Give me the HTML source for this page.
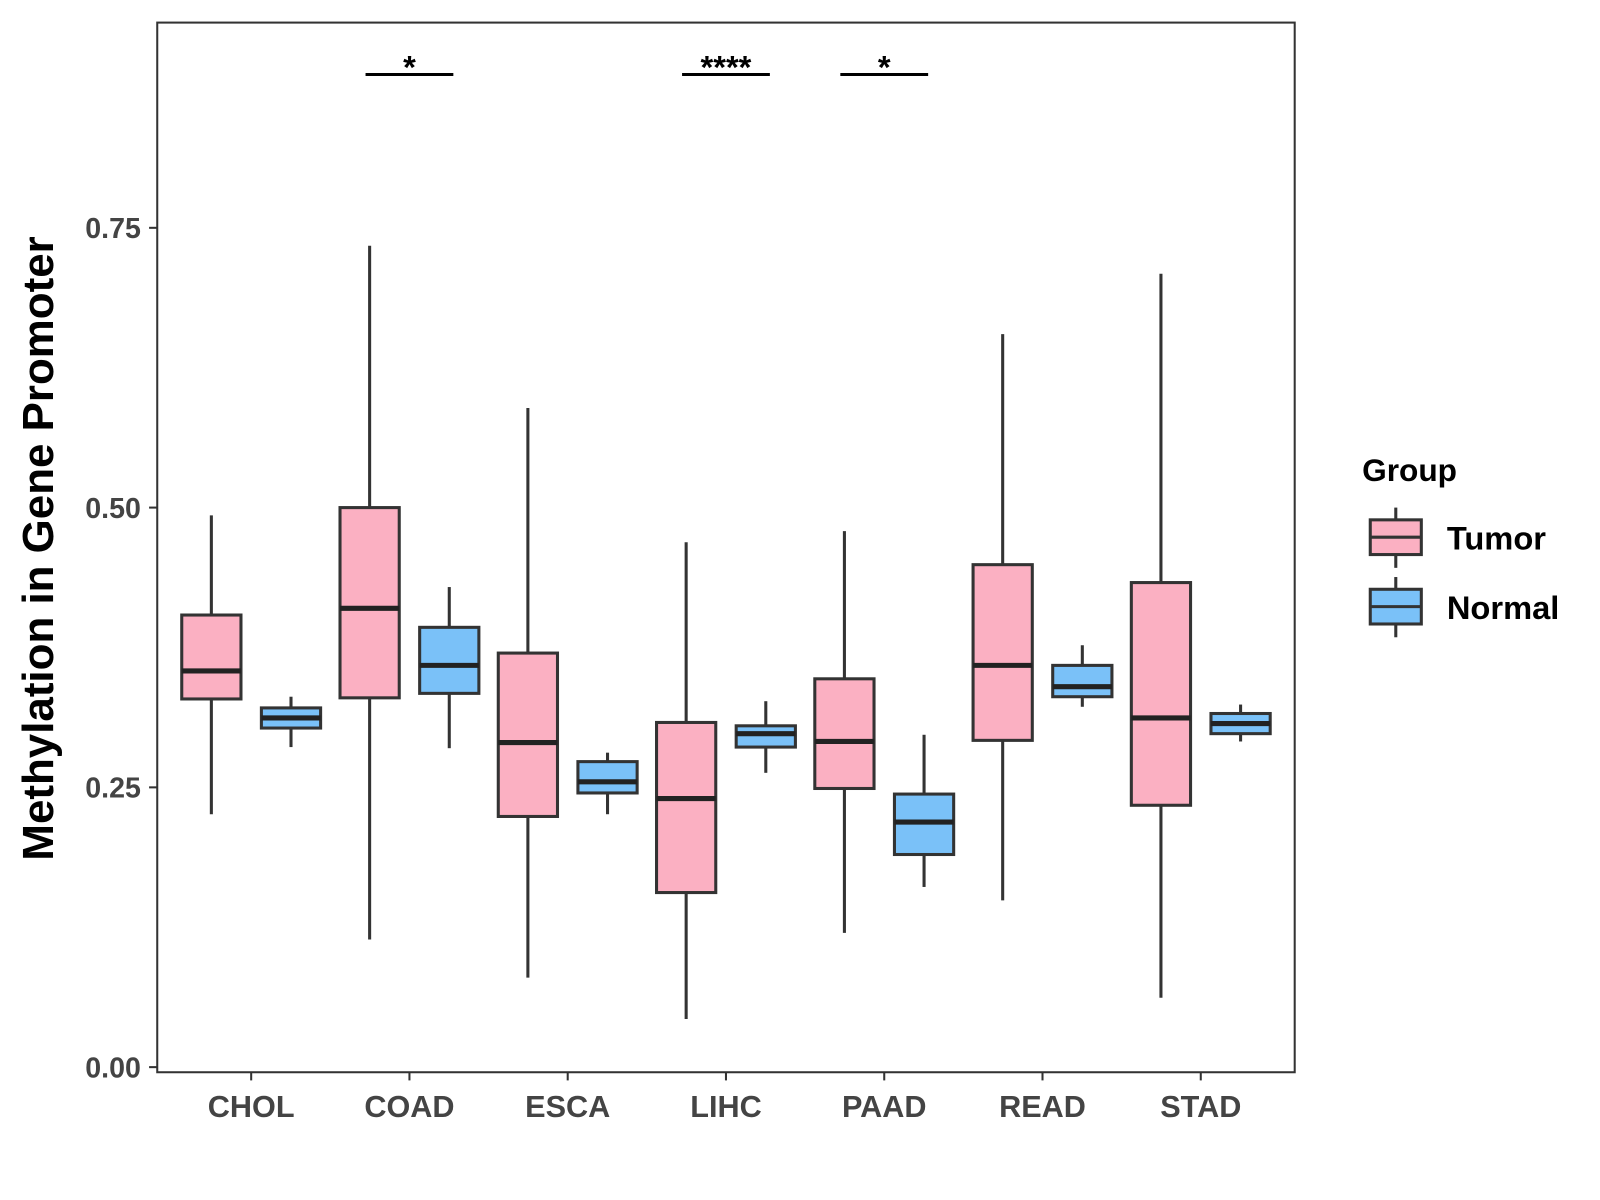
<!DOCTYPE html>
<html><head><meta charset="utf-8"><style>
html,body{margin:0;padding:0;background:#fff}
svg{display:block}
text{font-family:"Liberation Sans",Arial,sans-serif;font-weight:bold}
</style></head><body>
<svg id="chart" xmlns="http://www.w3.org/2000/svg" width="1600" height="1200" viewBox="0 0 1567 1175">
<rect x="0" y="0" width="1567" height="1175" fill="#fff"/>
<rect x="154" y="22" width="1114" height="1028" fill="none" stroke="#333" stroke-width="2"/>
<g id="yaxis"></g>
<g id="xaxis"></g>
<g id="boxes"></g>
<g id="sig"></g>
<text transform="translate(52,537) rotate(-90)" text-anchor="middle" font-size="43" fill="#000">Methylation in Gene Promoter</text>
<g>
<text x="1334" y="471" font-size="31" fill="#000">Group</text>
<g>
<line x1="1367" y1="497" x2="1367" y2="556" stroke="#333" stroke-width="3"/>
<rect x="1342" y="509" width="50" height="34" fill="#FBB0C2" stroke="#333" stroke-width="3"/>
<line x1="1342" y1="526" x2="1392" y2="526" stroke="#333" stroke-width="3"/>
<text x="1417" y="538" font-size="32" fill="#000">Tumor</text></g>
<g>
<line x1="1367" y1="565" x2="1367" y2="624" stroke="#333" stroke-width="3"/>
<rect x="1342" y="577" width="50" height="34" fill="#7AC1F8" stroke="#333" stroke-width="3"/>
<line x1="1342" y1="594" x2="1392" y2="594" stroke="#333" stroke-width="3"/>
<text x="1417" y="606" font-size="32" fill="#000">Normal</text></g>
</g>
</svg>
<script>
const categories=["CHOL","COAD","ESCA","LIHC","PAAD","READ","STAD"];
const groups=["Tumor","Normal"];
// [low, q1, median, q3, high]
const tumorStats=[[0.226,0.329,0.354,0.404,0.493],[0.114,0.330,0.410,0.500,0.734],[0.080,0.224,0.290,0.370,0.589],[0.043,0.156,0.240,0.308,0.469],[0.120,0.249,0.291,0.347,0.479],[0.149,0.292,0.359,0.449,0.655],[0.062,0.234,0.312,0.433,0.709]];
const normalStats=[[0.286,0.303,0.312,0.321,0.331],[0.285,0.334,0.359,0.393,0.429],[0.226,0.245,0.255,0.273,0.281],[0.263,0.286,0.298,0.305,0.327],[0.161,0.190,0.219,0.244,0.297],[0.322,0.331,0.340,0.359,0.377],[0.291,0.298,0.307,0.316,0.324]];
const yTicks=[0,0.25,0.5,0.75];
const yTickLabels=["0.00","0.25","0.50","0.75"];
const sigCategories=["COAD","LIHC","PAAD"];
const sigLabels=["*","****","*"];
const sigValue=0.887;

const NS="http://www.w3.org/2000/svg";
function y(v){return 1045-1096*v;}
function x(c){return 246+155*categories.indexOf(c);}
function mk(tag,attrs,parent){const e=document.createElementNS(NS,tag);for(const k in attrs)e.setAttribute(k,attrs[k]);parent.appendChild(e);return e;}
const ya=document.getElementById('yaxis'),xa=document.getElementById('xaxis'),bx=document.getElementById('boxes'),sg=document.getElementById('sig');
yTicks.forEach((t,i)=>{
  const l=mk('line',{x1:146,x2:154,y1:y(t),y2:y(t),stroke:'#333','stroke-width':2},ya);
  
  
  const tx=mk('text',{x:138,y:y(t)+10,'text-anchor':'end','font-size':28,fill:'#444'},ya);
  tx.textContent=yTickLabels[i];
  
  
});
categories.forEach(c=>{
  const l=mk('line',{x1:x(c),x2:x(c),y1:1050,y2:1058,stroke:'#333','stroke-width':2},xa);
  
  
  const tx=mk('text',{x:x(c),y:1094,'text-anchor':'middle','font-size':30,fill:'#444'},xa);
  tx.textContent=c;
  
  
});
function drawBox(s,cx,fill,name){
  const g=mk('g',{},bx);
  
  
  const hw=29;
  mk('line',{x1:cx,x2:cx,y1:y(s[4]),y2:y(s[3]),stroke:'#333','stroke-width':3},g);
  mk('line',{x1:cx,x2:cx,y1:y(s[1]),y2:y(s[0]),stroke:'#333','stroke-width':3},g);
  mk('rect',{x:cx-hw,y:y(s[3]),width:2*hw,height:y(s[1])-y(s[3]),fill:fill,stroke:'#333','stroke-width':3},g);
  mk('line',{x1:cx-hw,x2:cx+hw,y1:y(s[2]),y2:y(s[2]),stroke:'#222','stroke-width':5},g);
}
categories.forEach((c,i)=>{
  drawBox(tumorStats[i],x(c)-39,'#FBB0C2','box-'+c.toLowerCase()+'-tumor');
  drawBox(normalStats[i],x(c)+39,'#7AC1F8','box-'+c.toLowerCase()+'-normal');
});
sigCategories.forEach((c,i)=>{
  const l=mk('line',{x1:x(c)-43,x2:x(c)+43,y1:y(sigValue),y2:y(sigValue),stroke:'#000','stroke-width':3},sg);
  
  
  const t=mk('text',{x:x(c),y:y(sigValue)+4,'text-anchor':'middle','font-size':32,fill:'#000'},sg);
  t.textContent=sigLabels[i];
  
  
});
</script>
</body></html>
